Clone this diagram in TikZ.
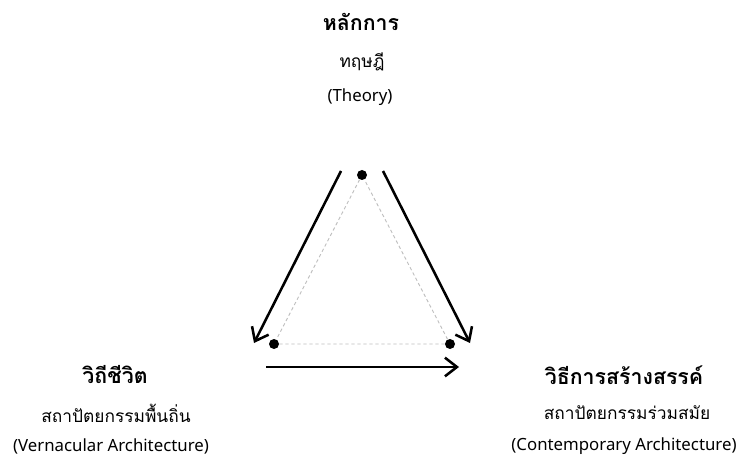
\documentclass[tikz,border=0pt]{standalone}
\usepackage{fontspec}
\setmainfont{Noto Sans}
\newfontfamily\thaifont[Script=Thai]{Loma}
\usetikzlibrary{arrows.meta}
\tikzset{
  title/.style={font=\thaifont\bfseries\fontsize{16}{18}\selectfont, inner sep=0pt, anchor=center},
  sub/.style={font=\thaifont\fontsize{13}{15}\selectfont, inner sep=0pt, anchor=center},
  eng/.style={font=\fontsize{12.6}{14}\selectfont, inner sep=0pt, anchor=center},
  dot/.style={circle, fill=black, inner sep=0pt, minimum size=7.5pt},
  flow/.style={line width=1.9pt, -{Straight Barb[length=9pt,width=14pt,line width=1.9pt]}},
  guide/.style={draw=black!25, dashed, dash pattern=on 2.5pt off 2pt, line width=0.7pt}
}
\begin{document}
\begin{tikzpicture}[x=0.75pt,y=-0.75pt]
\useasboundingbox (0,0) rectangle (746,470);
% top labels
\node[title] (tT) at (361,22) {หลักการ};
\node[sub] (tS) at (362,62) {ทฤษฎี};
\node[eng] (tE) at (360,97) {(Theory)};
% left labels
\node[title] (lT) at (115,375) {วิถีชีวิต};
\node[sub] (lS) at (116,413) {สถาปัตยกรรมพื้นถิ่น};
\node[eng] (lE) at (111,446) {(Vernacular Architecture)};
% right labels
\node[title] (rT) at (624,375) {วิธีการสร้างสรรค์};
\node[sub] (rS) at (627,413) {สถาปัตยกรรมร่วมสมัย};
\node[eng] (rE) at (624,446) {(Contemporary Architecture)};
% dots
\node[dot] (A) at (362,175) {};
\node[dot] (B) at (274,344) {};
\node[dot] (C) at (450,344) {};
\draw[guide] (A) -- (B) -- (C) -- (A);
% arrows
\coordinate (a1) at (341,171);
\coordinate (a2) at (254,343);
\coordinate (b1) at (383,171);
\coordinate (b2) at (470,343);
\coordinate (c1) at (266,367);
\coordinate (c2) at (459,367);
\draw[flow] (a1) -- (a2);
\draw[flow] (b1) -- (b2);
\draw[flow] (c1) -- (c2);
\end{tikzpicture}
\end{document}
